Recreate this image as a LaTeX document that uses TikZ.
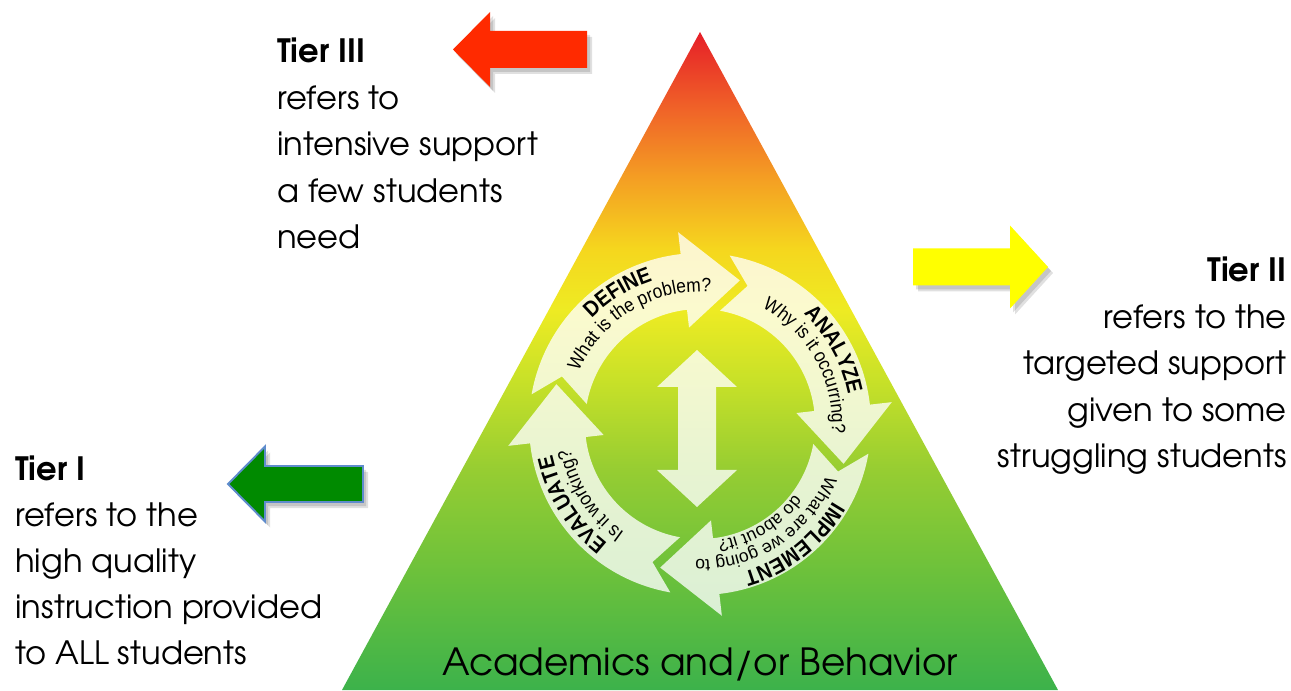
\documentclass[tikz,border=0pt]{standalone}
\usepackage{fontspec}
\setmainfont{TeX Gyre Adventor}
\newfontfamily\ringfont[FakeStretch=0.9]{Liberation Sans}
\newfontfamily\ringfontn{Liberation Sans}
\usetikzlibrary{decorations.text}
\definecolor{g1}{RGB}{230,30,40}
\definecolor{g2}{RGB}{240,100,40}
\definecolor{g3}{RGB}{244,160,35}
\definecolor{g4}{RGB}{245,215,30}
\definecolor{g5}{RGB}{238,235,35}
\definecolor{g6}{RGB}{200,225,40}
\definecolor{g7}{RGB}{150,205,50}
\definecolor{g8}{RGB}{105,192,60}
\definecolor{g9}{RGB}{60,178,75}
\definecolor{redarrow}{RGB}{255,42,0}
\definecolor{yelarrow}{RGB}{255,255,0}
\definecolor{grnarrow}{RGB}{0,138,0}
\definecolor{grnborder}{RGB}{95,140,205}
\pgfdeclareverticalshading{tri}{100bp}{color(0bp)=(g9); color(25bp)=(g9); color(33.36bp)=(g8); color(41.72bp)=(g7); color(48.56bp)=(g6); color(53.88bp)=(g5); color(58.44bp)=(g4); color(63.75bp)=(g3); color(69.07bp)=(g2); color(75bp)=(g1); color(100bp)=(g1)}
\newcommand{\wfont}{\ringfont\bfseries\fontsize{12.5}{13}\selectfont}
\newcommand{\sfont}{\ringfont\fontsize{11}{12}\selectfont}
\newcommand{\ifont}{\ringfontn\fontsize{10}{11}\selectfont}
\def\cRo{171}\def\cRi{115}\def\cRho{193}\def\cRhi{97}\def\cRtip{149}\def\cRn{146}
% #1 tail angle, #2 head base angle
\newcommand{\cycarrow}[2]{\fill[ringfill] (#1:\cRo) arc[start angle=#1,end angle=#2,radius=\cRo] -- (#2:\cRho) -- ({#2-22}:\cRtip) -- (#2:\cRhi) -- (#2:\cRi) arc[start angle=#2,end angle=#1,radius=\cRi] -- ({#1-9}:\cRn) -- cycle;}
\newcommand{\arctext}[5]{\path[decorate,decoration={text along path,text align=center,text={|#4|#5}}] (#1:#3) arc[start angle=#1,end angle=#2,radius=#3];}
\tikzset{
  ringfill/.style={fill=white,fill opacity=0.78},
  shadowfill/.style={fill=black,fill opacity=0.12},
  tierb/.style={inner sep=0pt,font=\bfseries\fontsize{18.3}{22}\selectfont},
  tiert/.style={inner sep=0pt,font=\fontsize{18.3}{22}\selectfont},
}
\begin{document}
\begin{tikzpicture}[x=0.02cm,y=0.02cm]
\useasboundingbox (0,0) rectangle (1291,690);
% triangle
\shade[shading=tri] (700,658) -- (1058,0) -- (342,0) -- cycle;
% side arrows: shadows
\foreach \dx/\dy in {3/-4,5/-6}{
  \fill[shadowfill,shift={(\dx,\dy)}] (453,640.5) -- (490,678) -- (490,659) -- (587,659) -- (587,622) -- (490,622) -- (490,603) -- cycle;
  \fill[shadowfill,shift={(\dx,\dy)}] (1048,423) -- (1010,464.5) -- (1010,441.5) -- (913,441.5) -- (913,404.5) -- (1010,404.5) -- (1010,381.5) -- cycle;
  \fill[shadowfill,shift={(\dx,\dy)}] (228,206) -- (265,243.5) -- (265,224) -- (363,224) -- (363,188) -- (265,188) -- (265,168.5) -- cycle;
}
\fill[redarrow] (453,640.5) -- (490,678) -- (490,659) -- (587,659) -- (587,622) -- (490,622) -- (490,603) -- cycle;
\fill[yelarrow] (1048,423) -- (1010,464.5) -- (1010,441.5) -- (913,441.5) -- (913,404.5) -- (1010,404.5) -- (1010,381.5) -- cycle;
\filldraw[fill=grnarrow,draw=grnborder,line width=1.1pt,line join=miter] (228,206) -- (265,243.5) -- (265,224) -- (363,224) -- (363,188) -- (265,188) -- (265,168.5) -- cycle;
% central double arrow
\fill[ringfill] (697,340) -- (737,303) -- (716,303) -- (716,220) -- (737,220) -- (697,183) -- (657,220) -- (678,220) -- (678,303) -- (657,303) -- cycle;
% cycle
\begin{scope}[shift={(700,266)}]
\cycarrow{170}{96.5}
\cycarrow{80}{6.5}
\cycarrow{-10}{-83.5}
\cycarrow{-100}{-173.5}
\arctext{172}{72}{151}{\wfont}{DEFINE}
\arctext{171}{71}{132}{\sfont}{What is the problem?}
\arctext{79}{-21}{151}{\wfont}{ANALYZE}
\arctext{79}{-21}{132}{\sfont}{Why is it occurring?}
\arctext{-2}{-102}{154}{\wfont}{IMPLEMENT}
\arctext{-7}{-107}{136}{\ifont}{What are we going to}
\arctext{-9}{-109}{118}{\ifont}{do about it?}
\arctext{262}{162}{151}{\wfont}{EVALUATE}
\arctext{263}{163}{132}{\sfont}{Is it working?}
\end{scope}
% Tier III
\node[tierb,anchor=base west] (t3a) at (277,627) {Tier III};
\node[tiert,anchor=base west] (t3b) at (277,580) {refers to};
\node[tiert,anchor=base west] (t3c) at (277,534) {intensive support};
\node[tiert,anchor=base west] (t3d) at (277,487) {a few students};
\node[tiert,anchor=base west] (t3e) at (277,441) {need};
% Tier II
\node[tierb,anchor=base east] (t2a) at (1287,408) {Tier II};
\node[tiert,anchor=base east] (t2b) at (1287,361) {refers to the};
\node[tiert,anchor=base east] (t2c) at (1287,315) {targeted support};
\node[tiert,anchor=base east] (t2d) at (1287,268) {given to some};
\node[tiert,anchor=base east] (t2e) at (1287,222) {struggling students};
% Tier I
\node[tierb,anchor=base west] (t1a) at (15,210) {Tier I};
\node[tiert,anchor=base west] (t1b) at (15,164) {refers to the};
\node[tiert,anchor=base west] (t1c) at (15,118) {high quality};
\node[tiert,anchor=base west] (t1d) at (15,72) {instruction provided};
\node[tiert,anchor=base west] (t1e) at (15,26) {to ALL students};
% base label
\node[inner sep=0pt,anchor=base,font=\fontsize{21.3}{24}\selectfont] (acad) at (700,15) {Academics and/or Behavior};
\end{tikzpicture}
\end{document}
